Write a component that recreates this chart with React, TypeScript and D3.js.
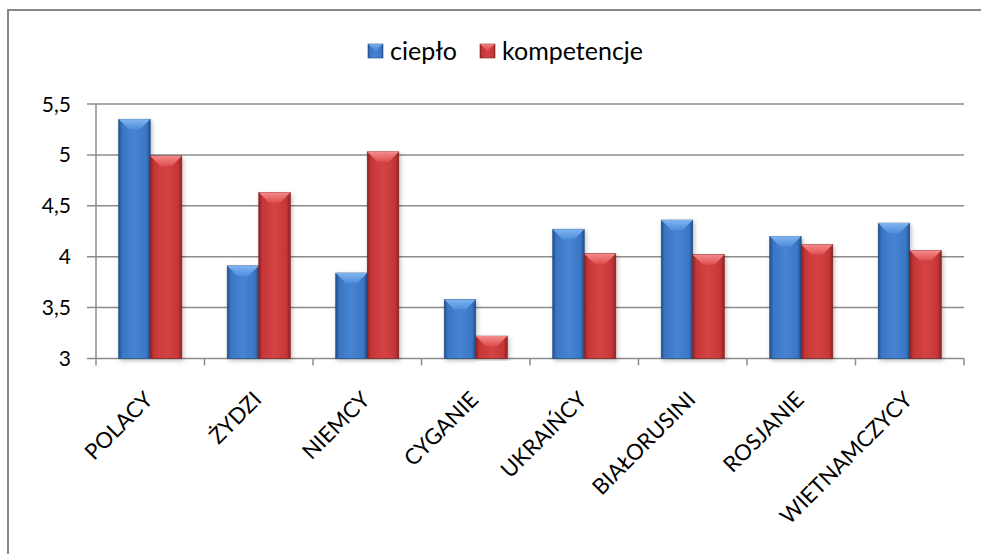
import React from "react";
import * as d3 from "d3";

const categories = ["POLACY", "ŻYDZI", "NIEMCY", "CYGANIE", "UKRAIŃCY", "BIAŁORUSINI", "ROSJANIE", "WIETNAMCZYCY"];
const seriesNames = ["ciepło", "kompetencje"];
const cieplo = [5.35, 3.91, 3.84, 3.58, 4.27, 4.36, 4.2, 4.33];
const kompetencje = [4.99, 4.63, 5.03, 3.22, 4.03, 4.02, 4.12, 4.06];
const yTicks = [3, 3.5, 4, 4.5, 5, 5.5];

const W = 981;
const H = 554;
const plot = { left: 96, right: 964, top: 104, bottom: 358.5 };
const FONT = "Lato, 'Open Sans', sans-serif";

const palettes = [
  { id: "b", edge: "#24508c", body: "#3a76c4", mid: "#4684d2", topA: "#7fb4f0", topB: "#4f8edb", stroke: "#1f4a84" },
  { id: "r", edge: "#8e2222", body: "#c63636", mid: "#d44444", topA: "#f58a8a", topB: "#dd5050", stroke: "#7e1e1e" },
];

export default function App() {
  const x0 = d3.scaleBand<string>().domain(categories).range([plot.left, plot.right]).paddingInner(0).paddingOuter(0);
  const x1 = d3.scaleBand<string>().domain(seriesNames).range([0, x0.bandwidth()]).paddingInner(0).paddingOuter(0.72);
  const y = d3.scaleLinear().domain([3, 5.5]).range([plot.bottom, plot.top]);
  const data = [cieplo, kompetencje];
  const boundaries = d3.range(categories.length + 1).map((i) => plot.left + i * x0.bandwidth());
  const fmt = (v: number) => String(v).replace(".", ",");

  const bar = (cat: string, ci: number, si: number) => {
    const p = palettes[si];
    const v = data[si][ci];
    const bx = (x0(cat) as number) + (x1(seriesNames[si]) as number);
    const bw = x1.bandwidth();
    const top = y(v);
    const bot = y(3);
    const b = Math.min(10, (bot - top) / 2);
    return (
      <g key={cat + si} filter="url(#shadow)">
        <rect x={bx} y={top} width={bw} height={bot - top} fill={`url(#body-${p.id})`} stroke={p.stroke} strokeWidth={0.6} />
        <polygon
          points={`${bx},${top} ${bx + bw},${top} ${bx + bw - b},${top + b} ${bx + b},${top + b}`}
          fill={`url(#top-${p.id})`}
        />
      </g>
    );
  };

  return (
    <svg width={W} height={H} style={{ position: "absolute", left: 0, top: 0, background: "#fff" }} fontFamily={FONT}>
      <defs>
        {palettes.map((p) => (
          <React.Fragment key={p.id}>
            <linearGradient id={`body-${p.id}`} x1="0" x2="1" y1="0" y2="0">
              <stop offset="0" stopColor={p.edge} />
              <stop offset="0.12" stopColor={p.body} />
              <stop offset="0.5" stopColor={p.mid} />
              <stop offset="0.88" stopColor={p.body} />
              <stop offset="1" stopColor={p.edge} />
            </linearGradient>
            <linearGradient id={`top-${p.id}`} x1="0" x2="0" y1="0" y2="1">
              <stop offset="0" stopColor={p.topA} />
              <stop offset="1" stopColor={p.topB} />
            </linearGradient>
          </React.Fragment>
        ))}
        <filter id="shadow" x="-20%" y="-5%" width="140%" height="115%">
          <feDropShadow dx="1.5" dy="2" stdDeviation="2" floodColor="#000" floodOpacity="0.25" />
        </filter>
      </defs>

      <rect x={0} y={0} width={W} height={H} fill="#fff" />
      <line x1={7} x2={W} y1={10} y2={10} stroke="#868686" strokeWidth={2} />
      <line x1={8} x2={8} y1={9} y2={H} stroke="#868686" strokeWidth={2} />

      {/* legend */}
      {seriesNames.map((s, i) => {
        const lx = [368, 480][i];
        const p = palettes[i];
        return (
          <g key={s}>
            <rect x={lx} y={44} width={15} height={14} fill={`url(#body-${p.id})`} stroke={p.stroke} strokeWidth={0.6} />
            <polygon points={`${lx},44 ${lx + 15},44 ${lx + 7.5},51`} fill={`url(#top-${p.id})`} opacity={0.8} />
            <text x={lx + 22} y={60} fontSize={25} fill="#000">{s}</text>
          </g>
        );
      })}

      {/* gridlines & y ticks */}
      {yTicks.map((t) => (
        <g key={t}>
          <line x1={plot.left - 9} x2={plot.right} y1={y(t)} y2={y(t)} stroke="#8c8c8c" strokeWidth={1.5} />
          <text x={71} y={y(t)} dy="0.36em" textAnchor="end" fontSize={21} fill="#000">{fmt(t)}</text>
        </g>
      ))}
      <line x1={plot.left} x2={plot.left} y1={plot.top} y2={plot.bottom} stroke="#8c8c8c" strokeWidth={1.5} />
      {boundaries.map((bx, i) => (
        <line key={i} x1={bx} x2={bx} y1={plot.bottom} y2={plot.bottom + 7} stroke="#8c8c8c" strokeWidth={1.5} />
      ))}

      {/* bars */}
      {categories.map((c, ci) => [0, 1].map((si) => bar(c, ci, si)))}

      {/* x labels */}
      {categories.map((c) => {
        const cx = (x0(c) as number) + x0.bandwidth() / 2;
        return (
          <text key={c} transform={`translate(${cx + 4},${401}) rotate(-45)`} textAnchor="end" fontSize={22} fill="#000">
            {c}
          </text>
        );
      })}
    </svg>
  );
}
